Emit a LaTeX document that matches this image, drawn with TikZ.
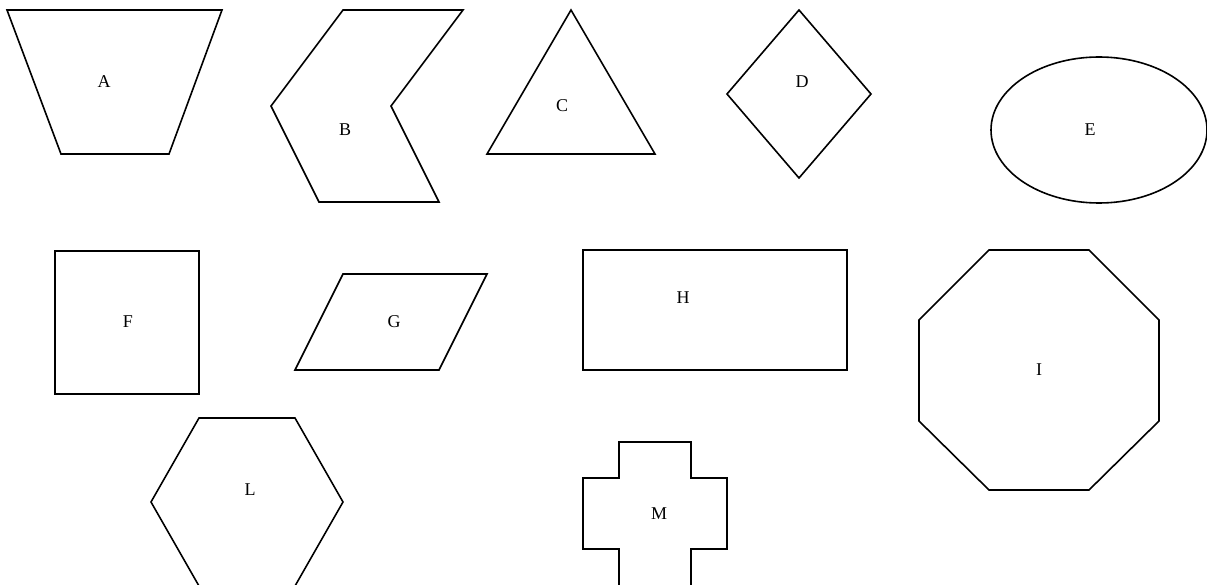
\documentclass[tikz,border=0pt]{standalone}
\usepackage{fontspec}
\setmainfont{Liberation Serif}
\begin{document}
\begin{tikzpicture}[x=1pt,y=-1pt,
  shapeline/.style={draw=black,line width=1.6pt,line join=miter},
  lbl/.style={font=\fontsize{18}{21}\selectfont,inner sep=0pt}]
\useasboundingbox (0,0) rectangle (1207,585);
% A trapezoid
\draw[shapeline] (7,10) -- (222,10) -- (169,154) -- (61,154) -- cycle;
\node[lbl] (A) at (104,82) {A};
% B chevron
\draw[shapeline] (343,10) -- (463,10) -- (391,106) -- (439,202) -- (319,202) -- (271,106) -- cycle;
\node[lbl] (B) at (345,130) {B};
% C triangle
\draw[shapeline] (571,10) -- (655,154) -- (487,154) -- cycle;
\node[lbl] (C) at (562,106) {C};
% D diamond
\draw[shapeline] (799,10) -- (871,94) -- (799,178) -- (727,94) -- cycle;
\node[lbl] (D) at (802,82) {D};
% E ellipse
\draw[shapeline] (1099,130) ellipse [x radius=108, y radius=73];
\node[lbl] (E) at (1090,130) {E};
% F square
\draw[shapeline] (55,251) rectangle (199,394);
\node[lbl] (F) at (128,322) {F};
% G parallelogram
\draw[shapeline] (343,274) -- (487,274) -- (439,370) -- (295,370) -- cycle;
\node[lbl] (G) at (394,322) {G};
% H rectangle
\draw[shapeline] (583,250) rectangle (847,370);
\node[lbl] (H) at (683,298) {H};
% I octagon
\draw[shapeline] (989,250) -- (1089,250) -- (1159,320) -- (1159,421) -- (1089,490) -- (989,490) -- (919,421) -- (919,320) -- cycle;
\node[lbl] (I) at (1039,370) {I};
% L hexagon
\draw[shapeline] (199,418) -- (295,418) -- (343,502) -- (295,586) -- (199,586) -- (151,502) -- cycle;
\node[lbl] (L) at (250,490) {L};
% M cross
\draw[shapeline] (619,442) -- (691,442) -- (691,478) -- (727,478) -- (727,549) -- (691,549) -- (691,600) -- (619,600) -- (619,549) -- (583,549) -- (583,478) -- (619,478) -- cycle;
\node[lbl] (M) at (659,514) {M};
\end{tikzpicture}
\end{document}
